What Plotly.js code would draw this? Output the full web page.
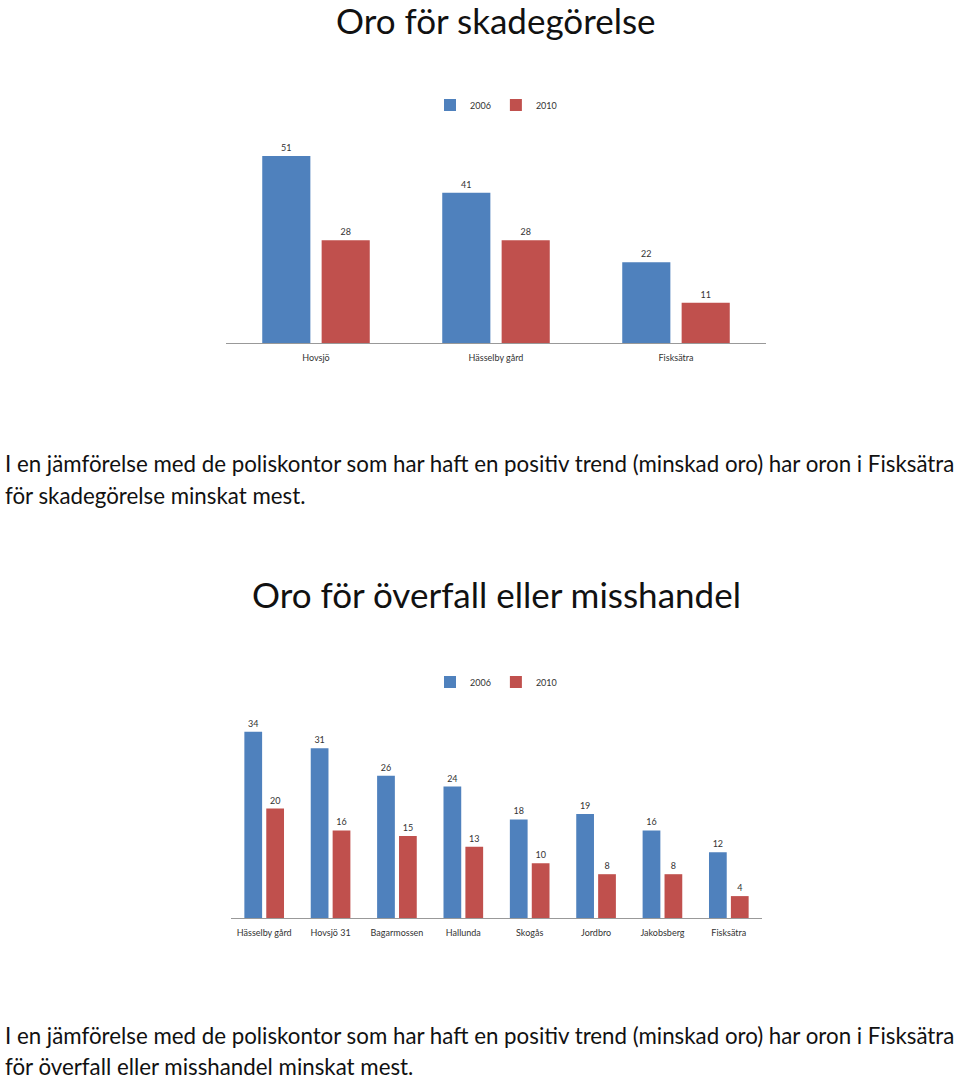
<!DOCTYPE html>
<html>
<head>
<meta charset="utf-8">
<script src="https://cdn.plot.ly/plotly-3.0.1.min.js"></script>
<style>html,body{margin:0;padding:0;background:#fff;}#chart{width:960px;height:1081px;}</style>
</head>
<body>
<div id="chart"></div>
<script>
const categories1 = ["Hovsjö", "Hässelby gård", "Fisksätra"];
const values1_2006 = [51, 41, 22];
const values1_2010 = [28, 28, 11];

const categories2 = ["Hässelby gård", "Hovsjö 31", "Bagarmossen", "Hallunda", "Skogås", "Jordbro", "Jakobsberg", "Fisksätra"];
const values2_2006 = [34, 31, 26, 24, 18, 19, 16, 12];
const values2_2010 = [20, 16, 15, 13, 10, 8, 8, 4];

const seriesNames = ["2006", "2010"];
const title1 = "Oro för skadegörelse";
const title2 = "Oro för överfall eller misshandel";
const body1 = ["I en jämförelse med de poliskontor som har haft en positiv trend (minskad oro) har oron i Fisksätra", "för skadegörelse minskat mest."];
const body2 = ["I en jämförelse med de poliskontor som har haft en positiv trend (minskad oro) har oron i Fisksätra", "för överfall eller misshandel minskat mest."];

const BLUE = "#4F81BD", RED = "#C0504D";
const FONT = "Lato, 'Open Sans', sans-serif";
const H = 1081, W = 960;
const py = p => (H - p) / H;
const px = p => p / W;

function bar(x, y, name, color, xa, ya, leg, show) {
  return {
    type: "bar", x: x, y: y, name: name, xaxis: xa, yaxis: ya, legend: leg,
    marker: {color: color}, text: y.map(String), textposition: "outside",
    textfont: {size: 9, color: "#333", family: FONT}, cliponaxis: false,
    hoverinfo: "skip", showlegend: show
  };
}

const data = [
  bar(categories1, values1_2006, seriesNames[0], BLUE, "x", "y", "legend", true),
  bar(categories1, values1_2010, seriesNames[1], RED, "x", "y", "legend", true),
  bar(categories2, values2_2006, seriesNames[0], BLUE, "x2", "y2", "legend2", true),
  bar(categories2, values2_2010, seriesNames[1], RED, "x2", "y2", "legend2", true)
];

const xcommon = {showline: true, linecolor: "#999", linewidth: 1, showgrid: false, zeroline: false,
  ticks: "", ticklabelstandoff: 6, tickfont: {size: 9, color: "#333", family: FONT}, fixedrange: true};
const ycommon = {visible: false, showgrid: false, zeroline: false, fixedrange: true};

const ann = [];
function textAnn(t, x, y, size, anchor) {
  ann.push({text: t, xref: "paper", yref: "paper", x: x, y: y, xanchor: anchor, yanchor: "middle",
    showarrow: false, font: {size: size, color: "#111", family: FONT}});
}
textAnn(title1, px(496), py(20), 35, "center");
textAnn(title2, px(496), py(594), 35, "center");
textAnn(body1[0], px(3), py(463), 22.3, "left");
textAnn(body1[1], px(3), py(495), 22.3, "left");
textAnn(body2[0], px(3), py(1035), 22.3, "left");
textAnn(body2[1], px(3), py(1066), 22.3, "left");

const legendCommon = {orientation: "h", xanchor: "center", yanchor: "middle", font: {size: 9, color: "#333", family: FONT},
  itemwidth: 30, tracegroupgap: 0, bgcolor: "rgba(0,0,0,0)"};

const layout = {
  width: W, height: H, margin: {l: 0, r: 0, t: 0, b: 0},
  paper_bgcolor: "#fff", plot_bgcolor: "#fff",
  barmode: "group", bargap: 0.34, bargroupgap: 0.19,
  xaxis: Object.assign({}, xcommon, {domain: [px(226), px(766)], anchor: "y"}),
  yaxis: Object.assign({}, ycommon, {domain: [py(343), py(123)], range: [0, 60], anchor: "x"}),
  xaxis2: Object.assign({}, xcommon, {domain: [px(231), px(762)], anchor: "y2"}),
  yaxis2: Object.assign({}, ycommon, {domain: [py(918), py(699)], range: [0, 40], anchor: "x2"}),
  legend: Object.assign({}, legendCommon, {x: px(496), y: py(105)}),
  legend2: Object.assign({}, legendCommon, {x: px(496), y: py(682)}),
  annotations: ann,
  showlegend: true
};

Plotly.newPlot("chart", data, layout, {displayModeBar: false, staticPlot: true});
</script>
</body>
</html>
